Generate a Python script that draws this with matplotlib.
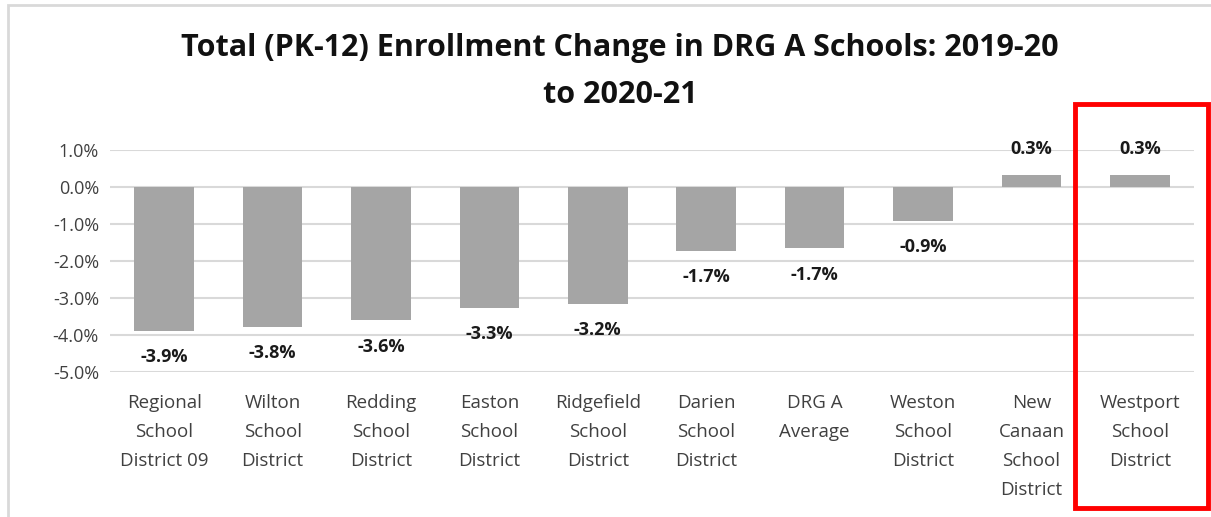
import matplotlib.pyplot as plt
from matplotlib.patches import Rectangle

districts = ["Regional\nSchool\nDistrict 09", "Wilton\nSchool\nDistrict", "Redding\nSchool\nDistrict",
             "Easton\nSchool\nDistrict", "Ridgefield\nSchool\nDistrict", "Darien\nSchool\nDistrict",
             "DRG A\nAverage", "Weston\nSchool\nDistrict", "New\nCanaan\nSchool\nDistrict",
             "Westport\nSchool\nDistrict"]
change = [-3.89, -3.78, -3.6, -3.27, -3.16, -1.73, -1.66, -0.92, 0.32, 0.32]
yticks = [1, 0, -1, -2, -3, -4, -5]

plt.rcParams['font.family'] = ['Open Sans', 'DejaVu Sans']

W, H = 1211, 517
fig = plt.figure(figsize=(W / 100, H / 100), dpi=100)
ax = fig.add_axes([110 / W, (H - 372) / H, (1194 - 110) / W, (372 - 150) / H])

x = list(range(len(change)))
ax.bar(x, change, width=0.55, color="#A5A5A5", zorder=2)
ax.set_xlim(-0.5, len(change) - 0.5)
ax.set_ylim(-5, 1)
ax.set_yticks(yticks)
ax.set_yticklabels([f"{v:.1f}%" for v in yticks], fontsize=13, color="#404040")
ax.yaxis.grid(True, color="#D9D9D9", linewidth=1.5, zorder=0)
ax.tick_params(axis="both", length=0, pad=8)
ax.set_xticks(x)
ax.set_xticklabels(districts, fontsize=13.5, color="#404040", linespacing=1.78, va="top")
ax.tick_params(axis="x", pad=16)
for s in ax.spines.values():
    s.set_visible(False)

for xi, v in zip(x, change):
    off = -19 if v < 0 else 19
    ax.annotate(f"{v:.1f}%", (xi, v), xytext=(0, off), textcoords="offset points",
                ha="center", va="center", fontsize=13, fontweight="bold", color="#1a1a1a")

fig.text(620 / W, 1 - 48 / H, "Total (PK-12) Enrollment Change in DRG A Schools: 2019-20",
         ha="center", va="center", fontsize=22, fontweight="bold", color="#111111")
fig.text(620 / W, 1 - 95 / H, "to 2020-21",
         ha="center", va="center", fontsize=22, fontweight="bold", color="#111111")

# chart area border (top/left visible)
fig.add_artist(Rectangle((8 / W, -0.1), 1.1, 1 - 5 / H + 0.1, transform=fig.transFigure,
                         fill=False, edgecolor="#D9D9D9", linewidth=2))
# highlight box
fig.add_artist(Rectangle((1075 / W, (H - 508) / H), (1208 - 1075) / W, (508 - 104) / H,
                         transform=fig.transFigure, fill=False, edgecolor="#FF0000", linewidth=3.5))

fig.savefig("out.png", dpi=100)
